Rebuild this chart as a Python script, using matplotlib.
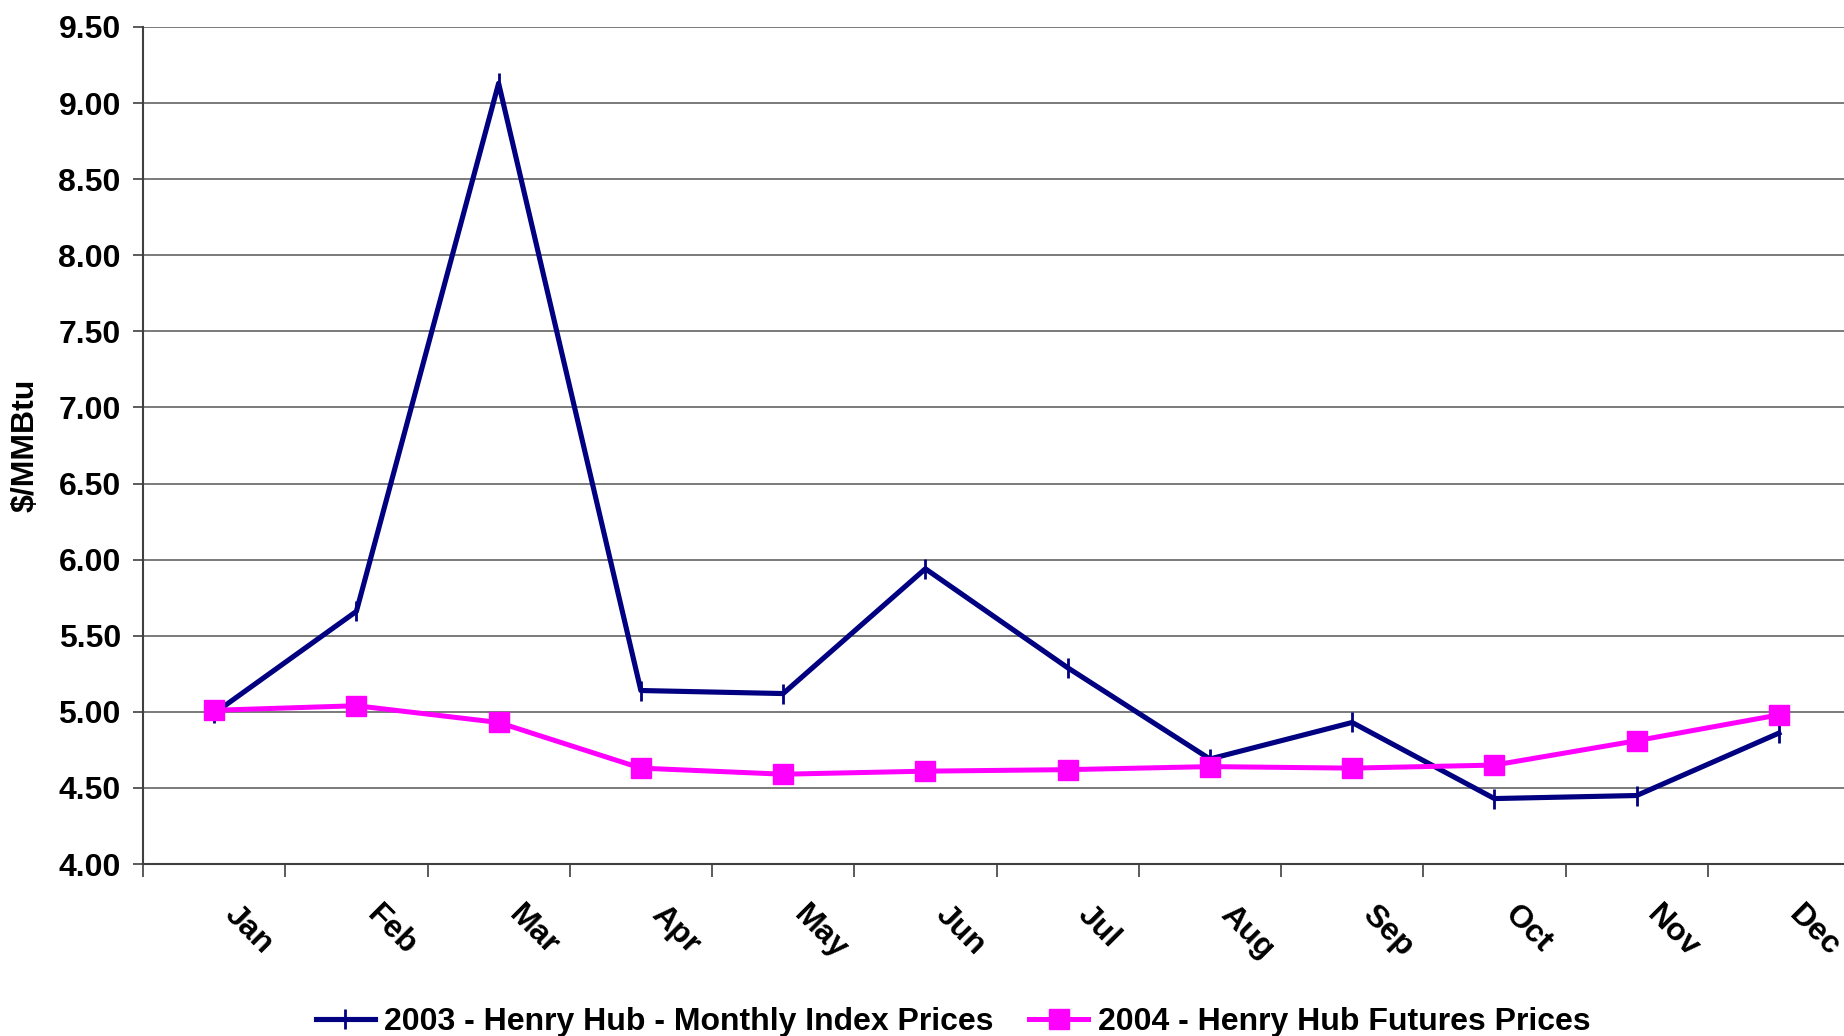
import matplotlib
matplotlib.use("Agg")
import matplotlib.pyplot as plt
import numpy as np

months = ["Jan", "Feb", "Mar", "Apr", "May", "Jun", "Jul", "Aug", "Sep", "Oct", "Nov", "Dec"]
index_2003 = [4.99, 5.66, 9.13, 5.14, 5.12, 5.94, 5.29, 4.69, 4.93, 4.43, 4.45, 4.86]
futures_2004 = [5.01, 5.04, 4.93, 4.63, 4.59, 4.61, 4.62, 4.64, 4.63, 4.65, 4.81, 4.98]
yticks = [4.0, 4.5, 5.0, 5.5, 6.0, 6.5, 7.0, 7.5, 8.0, 8.5, 9.0, 9.5]
label_2003 = "2003 - Henry Hub - Monthly Index Prices"
label_2004 = "2004 - Henry Hub Futures Prices"

plt.rcParams['font.family'] = ['Liberation Sans', 'DejaVu Sans']
plt.rcParams['font.weight'] = 'bold'

FS = 23
W, H = 1844, 1036
fig = plt.figure(figsize=(W / 100, H / 100), dpi=100)
ax = fig.add_axes([143 / W, (H - 864) / H, (1850 - 143) / W, (864 - 27) / H])

x = np.arange(len(months))
ax.plot(x, index_2003, color="#000080", lw=3.7, marker="|", ms=15, mew=2.0,
        label=label_2003, zorder=3)
ax.plot(x, futures_2004, color="#FF00FF", lw=3.6, marker="s", ms=15,
        label=label_2004, zorder=4)

ax.set_xlim(-0.5, len(months) - 0.5)
ax.set_ylim(4.0, 9.5)
ax.set_yticks(yticks)
ax.set_yticklabels([f"{v:.2f}" for v in yticks], fontsize=FS, fontweight="bold")
ax.yaxis.grid(True, color="#707070", lw=1.3)
ax.set_axisbelow(True)

ax.set_xticks(np.arange(len(months)) - 0.5)
ax.set_xticklabels([])
ax.tick_params(axis="x", which="major", length=9, width=1.2, color="#404040")
ax.tick_params(axis="y", which="major", length=7, width=1.2, color="#404040", pad=9)

for i, m in enumerate(months):
    ax.annotate(m, xy=(i, 0), xycoords=("data", "axes fraction"),
                xytext=(15, -46), textcoords="offset pixels",
                rotation=-45, rotation_mode="anchor", ha="left", va="center",
                fontsize=FS, fontweight="bold")

for s in ["top", "right"]:
    ax.spines[s].set_visible(False)
for s in ["left", "bottom"]:
    ax.spines[s].set_color("#404040")
    ax.spines[s].set_linewidth(1.5)

fig.text(26 / W, 1 - 445 / H, "$/MMBtu", rotation=90, ha="center", va="center",
         fontsize=FS, fontweight="bold")

fig.legend(loc="center", bbox_to_anchor=(953 / W, 1 - 1022 / H), ncol=2,
           frameon=False, handlelength=1.85, handletextpad=0.3,
           columnspacing=1.1, prop={"weight": "bold", "size": FS})

fig.savefig("out.png", dpi=100)
